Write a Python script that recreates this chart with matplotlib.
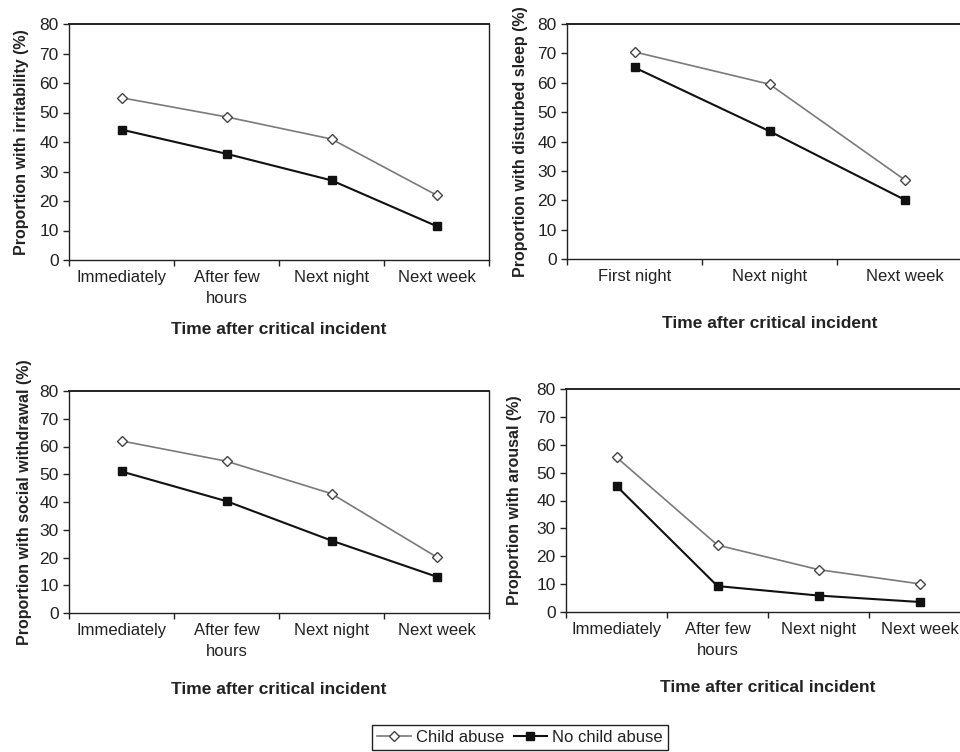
import numpy as np
import matplotlib
matplotlib.use("Agg")
import matplotlib.pyplot as plt
from matplotlib.ticker import FixedLocator, NullFormatter

plt.rcParams["font.family"] = ["Liberation Sans", "DejaVu Sans"]
plt.rcParams["text.color"] = "#222222"
plt.rcParams["xtick.color"] = "#222222"
plt.rcParams["ytick.color"] = "#222222"

# categories
cats4 = ["Immediately", "After few\nhours", "Next night", "Next week"]
cats3 = ["First night", "Next night", "Next week"]

# irritability
irrit_abuse = [55, 48.5, 41, 22]
irrit_none = [44.2, 36, 27, 11.5]
# disturbed sleep
sleep_abuse = [70.5, 59.5, 27]
sleep_none = [65.2, 43.5, 20.2]
# social withdrawal
social_abuse = [62, 54.7, 43, 20.2]
social_none = [51, 40.3, 26.1, 13.1]
# arousal
arousal_abuse = [55.5, 24, 15.2, 10.1]
arousal_none = [45.2, 9.3, 5.9, 3.6]

ylabels = ["Proportion with irritability (%)",
           "Proportion with disturbed sleep (%)",
           "Proportion with social withdrawal (%)",
           "Proportion with arousal (%)"]
xlabel = "Time after critical incident"

W, H = 960, 752
fig = plt.figure(figsize=(9.6, 7.52), dpi=100)

# pixel boxes: left, right, top, bottom
boxes = [(69, 489, 24, 260), (567, 972, 24, 259),
         (69, 489, 391, 613), (566, 970, 389, 612)]
xlab_off = [70, 64, 76, 76]
ylab_off = [47, 47, 44, 51]

panels = [(cats4, irrit_abuse, irrit_none),
          (cats3, sleep_abuse, sleep_none),
          (cats4, social_abuse, social_none),
          (cats4, arousal_abuse, arousal_none)]

handles = None
for i, (cats, ab, no) in enumerate(panels):
    l, r, t, b = boxes[i]
    ax = fig.add_axes([l / W, 1 - b / H, (r - l) / W, (b - t) / H])
    x = np.arange(len(cats))
    h1, = ax.plot(x, ab, color="#7a7a7a", lw=1.2, marker="D", ms=5,
                  mfc="white", mec="#444444", mew=1.0, label="Child abuse",
                  clip_on=False, zorder=3)
    h2, = ax.plot(x, no, color="#111111", lw=1.5, marker="s", ms=5.5,
                  mfc="#111111", mec="#111111", label="No child abuse",
                  clip_on=False, zorder=4)
    handles = [h1, h2]
    ax.set_xlim(-0.5, len(cats) - 0.5)
    ax.set_ylim(0, 80)
    ax.set_yticks(range(0, 81, 10))
    ax.set_xticks(x)
    ax.set_xticklabels(cats, fontsize=12, linespacing=1.55)
    ax.xaxis.set_minor_locator(FixedLocator(np.arange(-0.5, len(cats), 1.0)))
    ax.xaxis.set_minor_formatter(NullFormatter())
    ax.tick_params(axis="x", which="major", length=0, pad=7)
    ax.tick_params(axis="x", which="minor", length=4.5, width=1, direction="out")
    ax.tick_params(axis="y", length=4.5, width=1, direction="out", pad=3,
                   labelsize=12.5)
    for s in ax.spines.values():
        s.set_linewidth(1.0)
        s.set_color("#222222")
    ax.spines["top"].set_linewidth(1.4)
    ax.text(0.5, -xlab_off[i] / (b - t), xlabel, transform=ax.transAxes,
            ha="center", va="center", fontsize=12.5, fontweight="bold")
    ax.text(-ylab_off[i] / (r - l), 0.5, ylabels[i], transform=ax.transAxes,
            ha="center", va="center", rotation=90, fontsize=11.5,
            fontweight="bold")

leg = fig.legend(handles=handles, loc="upper center",
                 bbox_to_anchor=(520 / W, 1 - 725 / H), ncol=2,
                 fontsize=12, frameon=True, fancybox=False,
                 edgecolor="#222222", framealpha=1, handlelength=2.0,
                 handletextpad=0.3, columnspacing=0.6, borderpad=0.3,
                 borderaxespad=0)
leg.get_frame().set_linewidth(1.0)

fig.savefig("out.png", dpi=100)
